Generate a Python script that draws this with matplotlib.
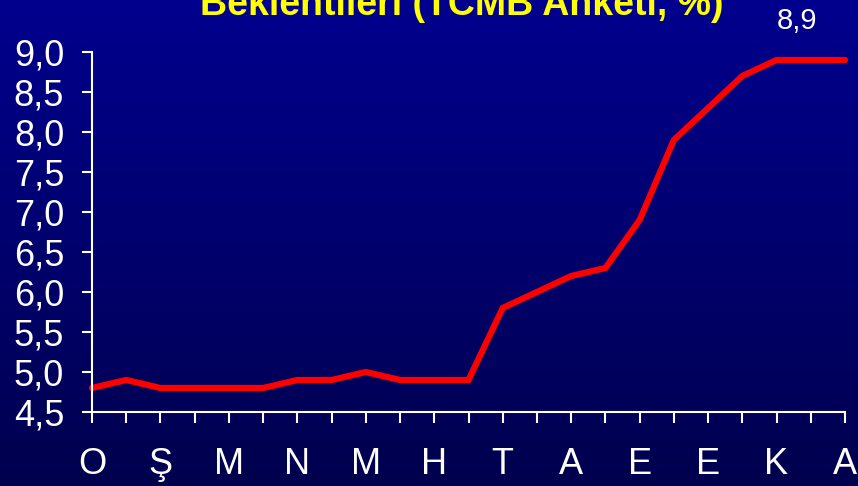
import numpy as np
import matplotlib.pyplot as plt

# beklenti serisi (yil sonu, %)
values = [4.8, 4.9, 4.8, 4.8, 4.8, 4.8, 4.9, 4.9, 5.0, 4.9, 4.9, 4.9,
          5.8, 6.0, 6.2, 6.3, 6.9, 7.9, 8.3, 8.7, 8.9, 8.9, 8.9]
month_labels = ['O', 'Ş', 'M', 'N', 'M', 'H', 'T', 'A', 'E', 'E', 'K', 'A']
y_ticks = [4.5, 5.0, 5.5, 6.0, 6.5, 7.0, 7.5, 8.0, 8.5, 9.0]
last_label = '8,9'
title = 'Beklentileri (TCMB Anketi, %)'

plt.rcParams['font.family'] = ['Liberation Sans', 'DejaVu Sans']

fig = plt.figure(figsize=(8.58, 4.86), dpi=100)

# koyu mavi gradyan arka plan
bg = fig.add_axes([0, 0, 1, 1], zorder=-1)
top = np.array([0, 0, 142]) / 255
bottom = np.array([0, 0, 78]) / 255
t = np.linspace(0, 1, 256)[:, None]
grad = top * (1 - t)[:, :, None] + bottom * t[:, :, None]
bg.imshow(grad, aspect='auto', extent=[0, 1, 0, 1])
bg.axis('off')

ax = fig.add_axes([92 / 858, 1 - 412 / 486, (845 - 92) / 858, (412 - 52) / 486])
ax.patch.set_alpha(0)

x = np.arange(len(values))
ax.plot(x, values, color='#ff0000', lw=4.5, solid_capstyle='round',
        solid_joinstyle='miter', clip_on=False)

ax.set_xlim(0, len(values) - 1)
ax.set_ylim(4.5, 9.0)
ax.set_yticks(y_ticks)
ax.set_yticklabels([f'{v:.1f}'.replace('.', ',') for v in y_ticks])
ax.set_xticks(x)
ax.set_xticklabels([month_labels[i // 2] if i % 2 == 0 else '' for i in x])

for s in ['top', 'right']:
    ax.spines[s].set_visible(False)
for s in ['left', 'bottom']:
    ax.spines[s].set_color('white')
    ax.spines[s].set_linewidth(1.5)

ax.tick_params(axis='y', colors='white', labelsize=26, length=7, width=1.5, pad=13)
ax.tick_params(axis='x', colors='white', labelsize=26, length=8, width=1.5, pad=17)

fig.text(462 / 858, 1 - 15 / 486, title, color='yellow', fontsize=27,
         fontweight='bold', ha='center', va='baseline')
fig.text(797 / 858, 1 - 29 / 486, last_label, color='white', fontsize=21,
         ha='center', va='baseline')

fig.savefig('out.png', dpi=100)
